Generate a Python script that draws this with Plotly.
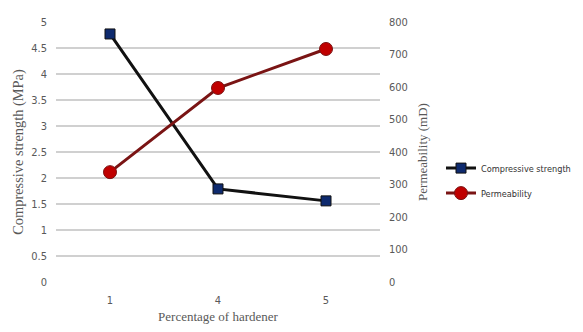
import plotly.graph_objects as go

categories = ["1", "4", "5"]
compressive = [4.77, 1.79, 1.56]
permeability = [338, 597, 717]
y1_ticks = [0, 0.5, 1, 1.5, 2, 2.5, 3, 3.5, 4, 4.5, 5]
y2_ticks = [0, 100, 200, 300, 400, 500, 600, 700, 800]

fig = go.Figure()
fig.add_trace(go.Scatter(
    x=categories, y=compressive, name="Compressive strength",
    mode="lines+markers", legendgroup="a",
    line=dict(color="#111111", width=3),
    marker=dict(symbol="square", size=10, color="#0e2a6e", line=dict(color="#111111", width=1)),
))
fig.add_trace(go.Scatter(
    x=categories, y=permeability, name="Permeability", yaxis="y2",
    mode="lines+markers", legendgroup="b",
    line=dict(color="#7a1414", width=3),
    marker=dict(symbol="circle", size=13, color="#c00000", line=dict(color="#7a1414", width=1)),
))

tickfont = dict(family="DejaVu Sans Condensed, sans-serif", size=11, color="#595959")
titlefont = dict(family="Liberation Serif, Times New Roman, serif", size=14.4, color="#595959")

# page body has an 8px margin: figure coords = page coords - 8
FW, FH = 567, 316
L, R, T, B = 48, 0, 14, 42
W = FW - L - R
dom_end = 324 / W

fig.update_layout(
    width=FW, height=FH,
    margin=dict(l=L, r=R, t=T, b=B, autoexpand=False),
    plot_bgcolor="white", paper_bgcolor="white",
    showlegend=True,
    legend=dict(x=(433 - L) / W, y=0.39, xanchor="left", yanchor="middle",
                font=dict(family="DejaVu Sans Condensed, sans-serif", size=9.1, color="#333333"),
                bgcolor="rgba(0,0,0,0)", tracegroupgap=6, itemwidth=30),
    xaxis=dict(
        domain=[0, dom_end],
        type="category", range=[-0.5, 2.5], showgrid=False, zeroline=False,
        showline=False, ticks="", tickfont=tickfont, automargin=False,
        ticklabelstandoff=10,
        title=dict(text="Percentage of hardener", font=dict(titlefont, size=13), standoff=10),
    ),
    yaxis=dict(
        range=[0, 5], tickvals=y1_ticks, ticktext=[("%g" % v) for v in y1_ticks],
        showgrid=True, gridcolor="#d0d0d0", gridwidth=1.5, zeroline=False,
        showline=False, ticks="", tickfont=tickfont, automargin=False,
        ticklabelstandoff=8,
        title=dict(text="Compressive strength (MPa)", font=titlefont, standoff=4),
    ),
    yaxis2=dict(
        range=[0, 800], tickvals=y2_ticks, overlaying="y", side="right",
        anchor="x",
        showgrid=False, zeroline=False, showline=False, ticks="", tickfont=tickfont,
        automargin=False, ticklabelstandoff=8,
        title=dict(text="Permeability (mD)", font=dict(titlefont, size=13), standoff=11),
    ),
)

fig.write_html("out.html")
